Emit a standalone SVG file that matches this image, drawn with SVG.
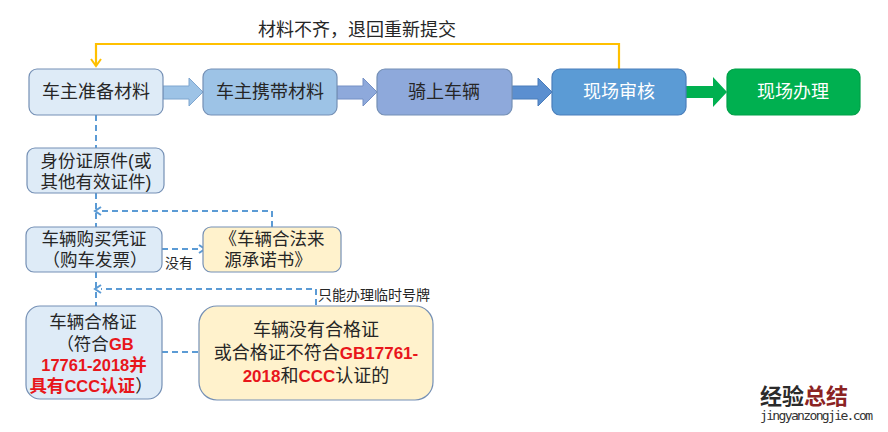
<svg xmlns="http://www.w3.org/2000/svg" width="888" height="432" viewBox="0 0 888 432">
<defs>
<style>
.cn{font-family:"Liberation Sans","Noto Sans CJK SC",sans-serif;font-size:18px;fill:#262626;text-anchor:middle}
.m{font-size:17.5px}
.sm{font-size:14px;text-anchor:start}
.w{fill:#fff}
.r{font-family:"Liberation Sans","Noto Sans CJK SC",sans-serif;font-weight:bold;fill:#E8161B;font-size:16.5px}
.rc{font-family:"Liberation Sans","Noto Sans CJK SC",sans-serif;font-weight:bold;fill:#E8161B}
.box{stroke:#7590B5;stroke-width:1.2}
.dash{fill:none;stroke:#5B9BD5;stroke-width:2;stroke-dasharray:6 4}
</style>
<marker id="ab" viewBox="0 0 10 10" refX="2" refY="5" markerWidth="10" markerHeight="10" markerUnits="userSpaceOnUse" orient="auto">
<path d="M2,1 L8,5 L2,9" fill="none" stroke="#5B9BD5" stroke-width="2"/>
</marker>
<marker id="ay" viewBox="0 0 12 12" refX="9" refY="6" markerWidth="12" markerHeight="12" markerUnits="userSpaceOnUse" orient="auto">
<path d="M2,1 L9,6 L2,11" fill="none" stroke="#FFC000" stroke-width="2"/>
</marker>
</defs>
<rect width="888" height="432" fill="#fff"/>

<g id="connectors">
<path d="M619,69 V44 H96 V66" fill="none" stroke="#FFC000" stroke-width="2.2" marker-end="url(#ay)"/>
<polygon points="163,86 189,86 189,78 203,92 189,106 189,99 163,99" fill="#9DC3E6" stroke="#7FA6CF" stroke-width="1"/>
<polygon points="337,86 363,86 363,78 377,92 363,106 363,99 337,99" fill="#8EA9DB" stroke="#7590C5" stroke-width="1"/>
<polygon points="512,86 538,86 538,78 552,92 538,106 538,99 512,99" fill="#5B8FD0" stroke="#4A7CBA" stroke-width="1"/>
<polygon points="686,86 713,86 713,77 727,92 713,107 713,98 686,98" fill="#00B050"/>
<path class="dash" d="M96,115 V148"/>
<path class="dash" d="M96,193 V227"/>
<path class="dash" d="M96,272 V306"/>
<path class="dash" d="M162,249 H199" marker-end="url(#ab)"/>
<path class="dash" d="M272,227 V211 H101" marker-end="url(#ab)"/>
<path class="dash" d="M316,305 V289 H101" marker-end="url(#ab)"/>
<path class="dash" d="M162,352 H199"/>
<text class="cn" x="357" y="36">材料不齐，退回重新提交</text>
<text class="cn sm" x="165" y="268">没有</text>
<text class="cn sm" x="318" y="300">只能办理临时号牌</text>
</g>

<g id="n1"><rect class="box" x="29" y="69" width="134" height="46" rx="8" fill="#DEEBF7"/><text class="cn" x="96" y="98">车主准备材料</text></g>
<g id="n2"><rect class="box" x="203" y="69" width="134" height="46" rx="8" fill="#9DC3E6"/><text class="cn" x="270" y="98">车主携带材料</text></g>
<g id="n3"><rect class="box" x="377" y="69" width="135" height="46" rx="8" fill="#8EA9DB"/><text class="cn" x="444" y="98">骑上车辆</text></g>
<g id="n4"><rect x="552" y="69" width="134" height="46" rx="8" fill="#5B9BD5" stroke="#4A7EBB" stroke-width="1.2"/><text class="cn w" x="619" y="98">现场审核</text></g>
<g id="n5"><rect x="727" y="69" width="133" height="46" rx="8" fill="#00B050" stroke="#00A048" stroke-width="1.2"/><text class="cn w" x="793" y="98">现场办理</text></g>

<g id="n6"><rect class="box" x="27" y="148" width="137" height="45" rx="8" fill="#DEEBF7"/><text class="cn m" x="96" y="167">身份证原件(或</text><text class="cn m" x="96" y="188">其他有效证件)</text></g>
<g id="n7"><rect class="box" x="26" y="227" width="136" height="45" rx="8" fill="#DEEBF7"/><text class="cn m" x="94" y="245">车辆购买凭证</text><text class="cn m" x="95" y="266">（购车发票）</text></g>
<g id="n8"><rect class="box" x="203" y="227" width="138" height="45" rx="8" fill="#FFF2CC"/><text class="cn m" x="272" y="245">《车辆合法来</text><text class="cn m" x="268" y="266">源承诺书》</text></g>
<g id="n9"><rect class="box" x="26" y="306" width="136" height="93" rx="14" fill="#DEEBF7"/>
<text class="cn m" x="93" y="328">车辆合格证</text>
<text class="cn m" x="95" y="350">（符合<tspan class="r">GB</tspan></text>
<text class="cn m" x="94" y="371"><tspan class="r">17761-2018</tspan><tspan class="rc">并</tspan></text>
<text class="cn m" x="91" y="392"><tspan class="rc">具有</tspan><tspan class="r">CCC</tspan><tspan class="rc">认证</tspan>）</text></g>
<g id="n10"><rect class="box" x="199" y="306" width="234" height="94" rx="18" fill="#FFF2CC"/>
<text class="cn" x="316" y="336">车辆没有合格证</text>
<text class="cn" x="316" y="359">或合格证不符合<tspan class="r" style="font-size:17px">GB17761-</tspan></text>
<text class="cn" x="316" y="382"><tspan class="r" style="font-size:17px">2018</tspan>和<tspan class="r" style="font-size:17px">CCC</tspan>认证的</text></g>

<g id="watermark">
<text x="760" y="404" font-family="Noto Sans CJK SC,sans-serif" font-weight="bold" font-size="22" fill="#2B2B2B">经验<tspan fill="#8B2323">总结</tspan></text>
<text x="760" y="420" font-family="DejaVu Sans Mono,monospace" font-size="13" fill="#333" textLength="113">jingyanzongjie.com</text>
</g>
</svg>
